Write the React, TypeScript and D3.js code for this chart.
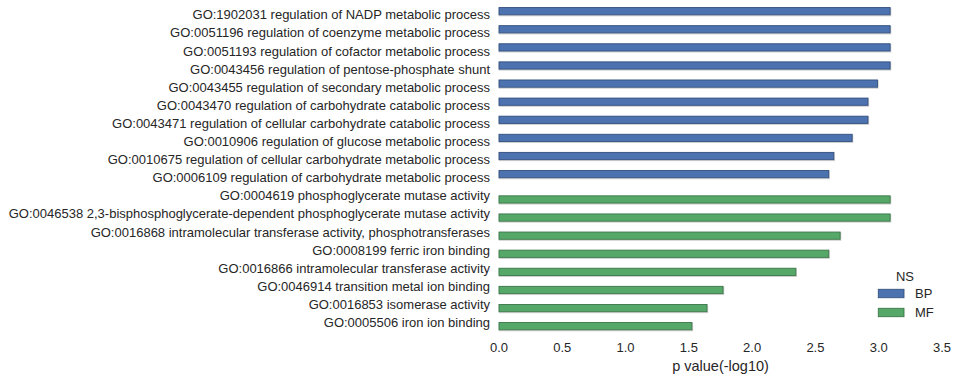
import React from "react";
import * as d3 from "d3";

const categories = [
  "GO:1902031 regulation of NADP metabolic process",
  "GO:0051196 regulation of coenzyme metabolic process",
  "GO:0051193 regulation of cofactor metabolic process",
  "GO:0043456 regulation of pentose-phosphate shunt",
  "GO:0043455 regulation of secondary metabolic process",
  "GO:0043470 regulation of carbohydrate catabolic process",
  "GO:0043471 regulation of cellular carbohydrate catabolic process",
  "GO:0010906 regulation of glucose metabolic process",
  "GO:0010675 regulation of cellular carbohydrate metabolic process",
  "GO:0006109 regulation of carbohydrate metabolic process",
  "GO:0004619 phosphoglycerate mutase activity",
  "GO:0046538 2,3-bisphosphoglycerate-dependent phosphoglycerate mutase activity",
  "GO:0016868 intramolecular transferase activity, phosphotransferases",
  "GO:0008199 ferric iron binding",
  "GO:0016866 intramolecular transferase activity",
  "GO:0046914 transition metal ion binding",
  "GO:0016853 isomerase activity",
  "GO:0005506 iron ion binding",
];
const namespaces = ["BP","BP","BP","BP","BP","BP","BP","BP","BP","BP","MF","MF","MF","MF","MF","MF","MF","MF"];
const values = [3.09, 3.09, 3.09, 3.09, 2.99, 2.915, 2.915, 2.79, 2.645, 2.605, 3.09, 3.09, 2.695, 2.605, 2.345, 1.77, 1.643, 1.524];
const hueLevels = ["BP", "MF"];
const xTicks = [0, 0.5, 1, 1.5, 2, 2.5, 3, 3.5];

const colors: Record<string, string> = { BP: "#4c72b0", MF: "#55a868" };
const edges: Record<string, string> = { BP: "#34507f", MF: "#3c774a" };

export default function App() {
  const W = 961, H = 379;
  const left = 499, right = 942, top = 5.75, bottom = 331.6;
  const x = d3.scaleLinear().domain([0, 3.5]).range([left, right]);
  const n = categories.length;
  const y = d3.scaleLinear().domain([-0.5, n - 0.5]).range([top, bottom]);
  const band = (y(1) - y(0));
  const barH = 0.4 * band;
  const font = "'Liberation Sans', Arial, sans-serif";
  return (
    <svg width={W} height={H} style={{ position: "absolute", left: 0, top: 0, background: "#fff" }} fontFamily={font}>
      {categories.map((c, i) => {
        const ns = namespaces[i];
        const off = ns === "BP" ? -0.2 : 0.2;
        const cy = y(i + off);
        const w = x(values[i]) - x(0);
        return (
          <g key={c}>
            <rect x={x(0) + 0.5} y={cy - barH / 2 + 0.8} width={w} height={barH} fill="none" stroke="#cfcfcf" strokeWidth={1.4} />
            <rect x={x(0)} y={cy - barH / 2} width={w} height={barH} fill={colors[ns]} stroke={edges[ns]} strokeWidth={0.9} />
            <text x={490} y={y(i)} textAnchor="end" dominantBaseline="central" fontSize={13} fill="#262626">{c}</text>
          </g>
        );
      })}
      {xTicks.map((t) => (
        <text key={t} x={x(t)} y={347} textAnchor="middle" dominantBaseline="central" fontSize={13} fill="#262626">{d3.format(".1f")(t)}</text>
      ))}
      <text x={(left + right) / 2} y={366} textAnchor="middle" dominantBaseline="central" fontSize={14.5} fill="#262626">p value(-log10)</text>
      <text x={905} y={276} textAnchor="middle" dominantBaseline="central" fontSize={13} fill="#262626">NS</text>
      {hueLevels.map((h, k) => (
        <g key={h}>
          <rect x={878.3} y={289.3 + k * 19} width={25.7} height={8.4} fill={colors[h]} stroke={edges[h]} strokeWidth={0.9} />
          <text x={915} y={293.5 + k * 19} dominantBaseline="central" fontSize={13} fill="#262626">{h}</text>
        </g>
      ))}
    </svg>
  );
}
